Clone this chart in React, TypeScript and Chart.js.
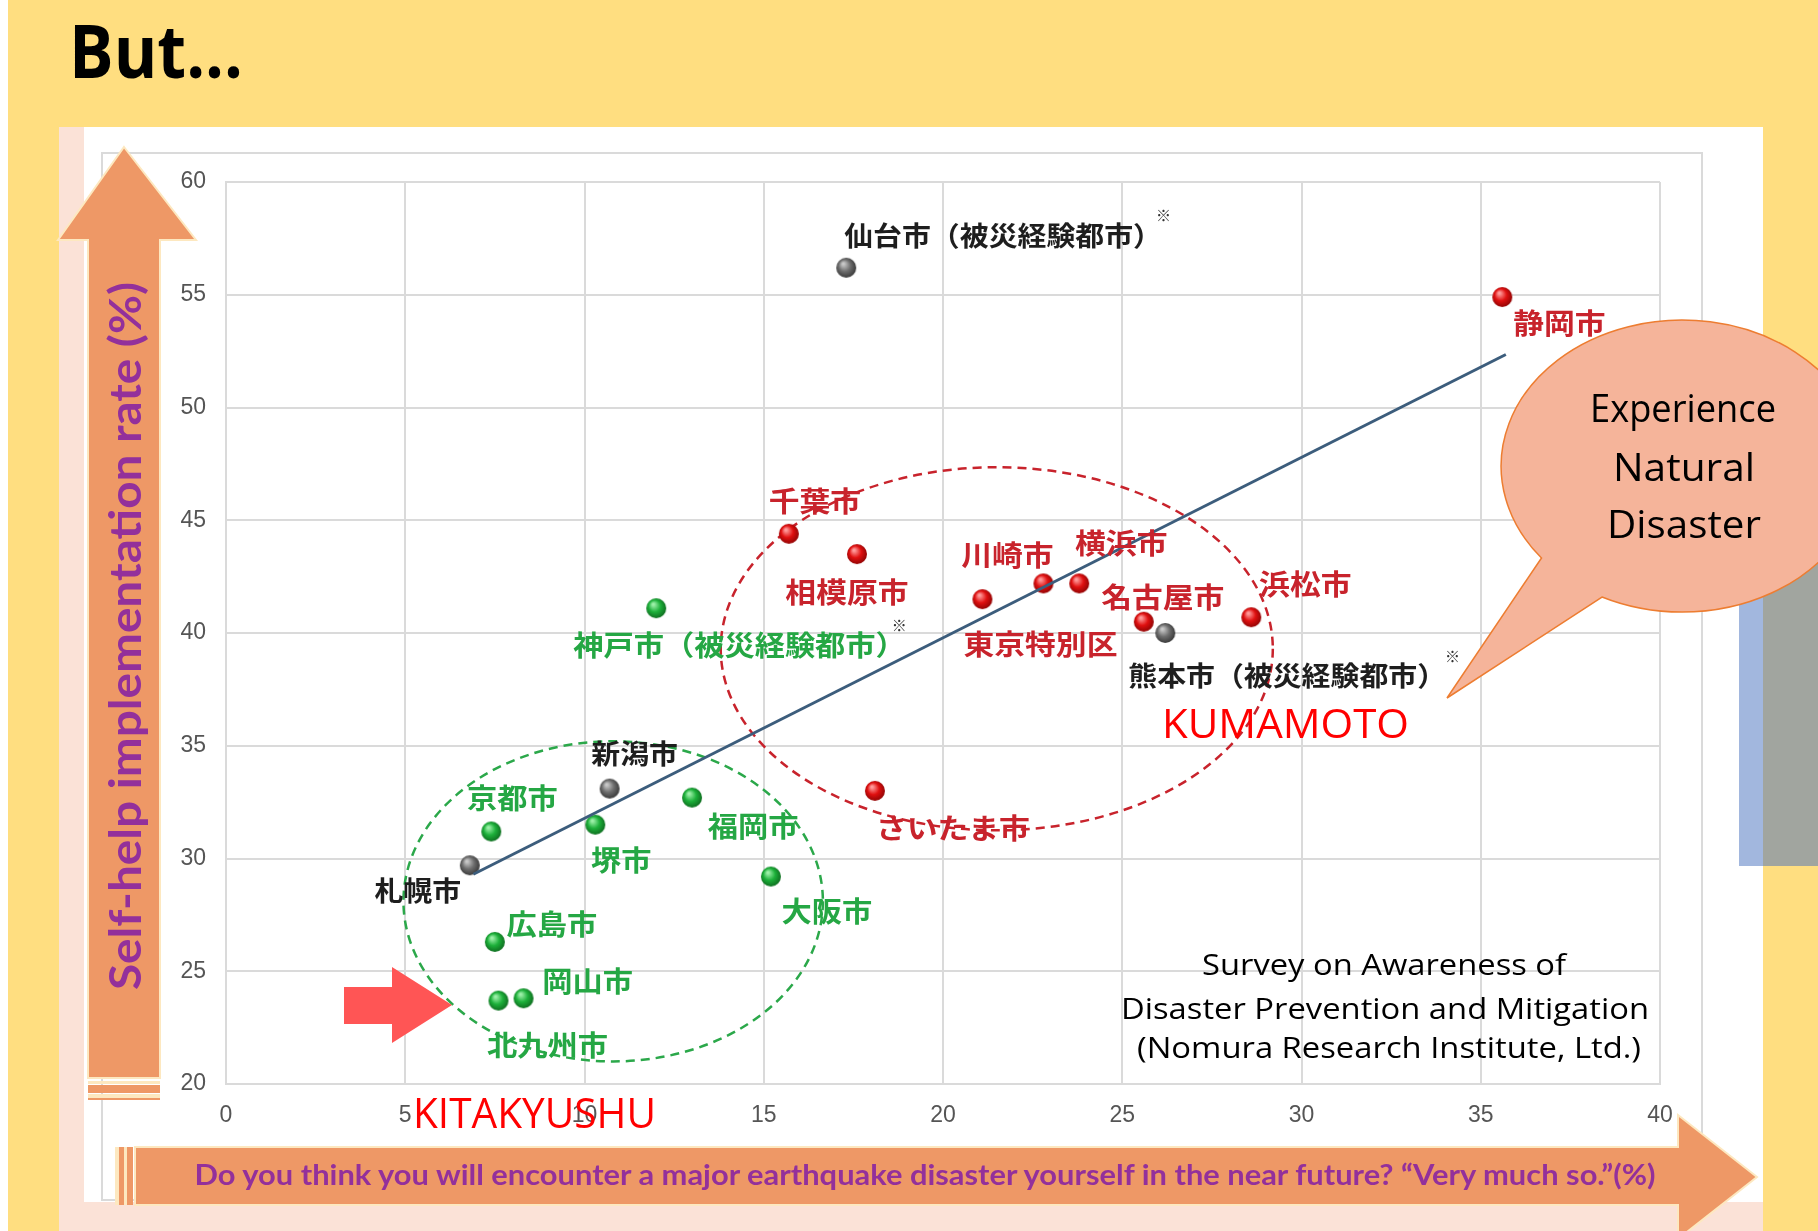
import React, { useEffect, useRef } from "react";
import { Chart, registerables } from "chart.js";

Chart.register(...registerables);

// ---------------- data ----------------
const xTickStep = 5;
const xRange = [0, 40];
const yTickStep = 5;
const yRange = [20, 60];

const redCities = ["静岡市", "千葉市", "相模原市", "東京特別区", "川崎市", "横浜市", "名古屋市", "浜松市", "さいたま市"];
const redX = [35.6, 15.7, 17.6, 21.1, 22.8, 23.8, 25.6, 28.6, 18.1];
const redY = [54.9, 44.4, 43.5, 41.5, 42.2, 42.2, 40.5, 40.7, 33.0];

const greenCities = ["神戸市（被災経験都市）", "京都市", "堺市", "福岡市", "大阪市", "広島市", "北九州市", "岡山市"];
const greenX = [12.0, 7.4, 10.3, 13.0, 15.2, 7.5, 7.6, 8.3];
const greenY = [41.1, 31.2, 31.5, 32.7, 29.2, 26.3, 23.7, 23.8];

const grayCities = ["仙台市（被災経験都市）", "熊本市（被災経験都市）", "新潟市", "札幌市"];
const grayX = [17.3, 26.2, 10.7, 6.8];
const grayY = [56.2, 40.0, 33.1, 29.7];

const trendX = [6.9, 35.7];
const trendY = [29.3, 52.35];

// dashed group ellipses (data units)
const ellipseCx = [21.5, 10.8];
const ellipseCy = [39.3, 28.1];
const ellipseRx = [7.7, 5.85];
const ellipseRy = [8.05, 7.1];
const ellipseColors = ["#C8232C", "#2BA84A"];

// label placement (pixel offsets from the point: dx, dy, align, star offset or null)
type Lbl = [number, number, "left" | "center", number | null];
const redLabelPos: Lbl[] = [
  [11, 26, "left", null],
  [26, -32, "center", null],
  [-10, 38, "center", null],
  [58, 45, "center", null],
  [-36, -28, "center", null],
  [42, -40, "center", null],
  [19, -24, "center", null],
  [54, -33, "center", null],
  [78, 38, "center", null],
];
const greenLabelPos: Lbl[] = [
  [-83, 37, "left", -14],
  [21, -33, "center", null],
  [26, 36, "center", null],
  [61, 29, "center", null],
  [56, 35, "center", null],
  [57, -18, "center", null],
  [49, 45, "center", null],
  [64, -17, "center", null],
];
const grayLabelPos: Lbl[] = [
  [-2, -32, "left", -6],
  [-37, 43, "left", -1],
  [25, -35, "center", null],
  [-52, 25, "center", null],
];

const RED = "#C8232C";
const GREEN = "#25A744";
const BLACK = "#1E1E1E";
const PURPLE = "#93309B";
const ORANGE = "#EE9866";
const CREAM = "#FDE8C0";

function sphere(light: string, mid: string, dark: string): HTMLCanvasElement {
  const c = document.createElement("canvas");
  c.width = 22;
  c.height = 22;
  const g = c.getContext("2d")!;
  const grad = g.createRadialGradient(8, 7, 1, 11, 11, 12);
  grad.addColorStop(0, light);
  grad.addColorStop(0.45, mid);
  grad.addColorStop(1, dark);
  g.beginPath();
  g.arc(11, 11, 10, 0, Math.PI * 2);
  g.fillStyle = grad;
  g.fill();
  return c;
}

function drawLabel(
  ctx: CanvasRenderingContext2D,
  text: string,
  x: number,
  y: number,
  align: "left" | "center",
  color: string,
  size: number,
  weight: number,
  sx: number
): number {
  ctx.save();
  ctx.font = `${weight} ${size}px "Noto Sans CJK JP"`;
  ctx.fillStyle = color;
  ctx.textBaseline = "middle";
  ctx.textAlign = "left";
  const w = ctx.measureText(text).width * sx;
  const left = align === "left" ? x : x - w / 2;
  ctx.translate(left, y);
  ctx.scale(sx, 1);
  ctx.fillText(text, 0, 0);
  ctx.restore();
  return left + w;
}

const annotationPlugin = {
  id: "annotations",
  beforeDatasetsDraw(chart: any) {
    const ctx: CanvasRenderingContext2D = chart.ctx;
    const xs = chart.scales.x;
    const ys = chart.scales.y;
    for (let i = 0; i < ellipseCx.length; i++) {
      const cx = xs.getPixelForValue(ellipseCx[i]);
      const cy = ys.getPixelForValue(ellipseCy[i]);
      const rx = Math.abs(xs.getPixelForValue(ellipseCx[i] + ellipseRx[i]) - cx);
      const ry = Math.abs(ys.getPixelForValue(ellipseCy[i] + ellipseRy[i]) - cy);
      ctx.save();
      ctx.beginPath();
      ctx.ellipse(cx, cy, rx, ry, 0, 0, Math.PI * 2);
      ctx.setLineDash([9, 6]);
      ctx.lineWidth = 2.5;
      ctx.strokeStyle = ellipseColors[i];
      ctx.stroke();
      ctx.restore();
    }
  },
  afterDatasetsDraw(chart: any) {
    const ctx: CanvasRenderingContext2D = chart.ctx;
    const groups: [number, string[], Lbl[], string, number, number, number][] = [
      [1, redCities, redLabelPos, RED, 28, 700, 1.1],
      [2, greenCities, greenLabelPos, GREEN, 28, 700, 1.08],
      [3, grayCities, grayLabelPos, BLACK, 27, 600, 1.07],
    ];
    for (const [di, names, pos, color, size, weight, sx] of groups) {
      const meta = chart.getDatasetMeta(di);
      names.forEach((name, j) => {
        const el = meta.data[j];
        if (!el) return;
        const [dx, dy, align, star] = pos[j];
        const right = drawLabel(ctx, name, el.x + dx, el.y + dy, align, color, size, weight, sx);
        if (star !== null) {
          ctx.save();
          ctx.font = `400 15px "Noto Sans CJK JP"`;
          ctx.fillStyle = "#333";
          ctx.textBaseline = "middle";
          ctx.textAlign = "left";
          ctx.fillText("※", right + star, el.y + dy - 20);
          ctx.restore();
        }
      });
    }
  },
};

function toPoints(xs: number[], ys: number[]) {
  return xs.map((x, i) => ({ x, y: ys[i] }));
}

export default function App() {
  const canvasRef = useRef<HTMLCanvasElement | null>(null);

  useEffect(() => {
    if (!canvasRef.current) return;
    const redSphere = sphere("#FF9A9A", "#E01010", "#7A0000");
    const greenSphere = sphere("#9CF0A8", "#1DB03A", "#0A5A18");
    const graySphere = sphere("#C8C8C8", "#6E6E6E", "#2A2A2A");
    const tickFont = { family: "'Liberation Sans', Arial, sans-serif", size: 23 };
    const chart = new Chart(canvasRef.current, {
      type: "scatter",
      data: {
        datasets: [
          {
            label: "trend",
            type: "line",
            data: toPoints(trendX, trendY),
            borderColor: "#3C5D7C",
            borderWidth: 3,
            pointRadius: 0,
            showLine: true,
            fill: false,
          } as any,
          { label: "red", data: toPoints(redX, redY), pointStyle: redSphere as any, pointRadius: 10 },
          { label: "green", data: toPoints(greenX, greenY), pointStyle: greenSphere as any, pointRadius: 10 },
          { label: "gray", data: toPoints(grayX, grayY), pointStyle: graySphere as any, pointRadius: 10 },
        ],
      },
      options: {
        animation: false,
        responsive: false,
        maintainAspectRatio: false,
        layout: { padding: { left: 0, top: 182, right: 158, bottom: 107 } },
        plugins: { legend: { display: false }, tooltip: { enabled: false } },
        scales: {
          x: {
            type: "linear",
            min: xRange[0],
            max: xRange[1],
            ticks: { stepSize: xTickStep, padding: 18, color: "#555555", font: tickFont },
            grid: { color: "#DADADA", lineWidth: 2, drawTicks: false },
            border: { color: "#DADADA", width: 2 },
            afterFit: (s: any) => {
              s.height = 40;
            },
          },
          y: {
            type: "linear",
            min: yRange[0],
            max: yRange[1],
            ticks: { stepSize: yTickStep, padding: 20, color: "#555555", font: tickFont },
            grid: { color: "#DADADA", lineWidth: 2, drawTicks: false },
            border: { color: "#DADADA", width: 2 },
            afterFit: (s: any) => {
              s.width = 226;
            },
          },
        },
      } as any,
      plugins: [annotationPlugin],
    });
    return () => chart.destroy();
  }, []);

  const W = 1818;
  const H = 1231;
  const abs: React.CSSProperties = { position: "absolute", left: 0, top: 0 };

  return (
    <div style={{ position: "absolute", left: 0, top: 0, width: W, height: H, overflow: "hidden", background: "#fff" }}>
      <svg width={W} height={H} style={abs}>
        <rect x={8} y={0} width={W - 8} height={H} fill="#FFDE80" />
        <rect x={59} y={127} width={1704} height={H - 127} fill="#FBE2D7" />
        <rect x={84} y={127} width={1679} height={1075} fill="#FFFFFF" />
        <rect x={102} y={153} width={1600} height={1047} fill="none" stroke="#DADADA" strokeWidth={2} />
        <text x={69} y={78} fontFamily="'Open Sans', sans-serif" fontWeight={700} fontSize={74} fill="#000" textLength={174} lengthAdjust="spacingAndGlyphs">
          But...
        </text>
      </svg>
      <canvas ref={canvasRef} width={W} height={H} style={{ ...abs, width: W, height: H }} />
      <svg width={W} height={H} style={{ ...abs, pointerEvents: "none" }}>
        {/* right side blocks */}
        <rect x={1739} y={520} width={24} height={346} fill="#A2B7DE" />
        <rect x={1763} y={520} width={55} height={346} fill="#A1A59F" />

        {/* vertical axis arrow */}
        <polygon points="124,147 196,240 160,240 160,1078 88,1078 88,240 58,240" fill={ORANGE} stroke={CREAM} strokeWidth={2} />
        <rect x={88} y={1081} width={72} height={3} fill={CREAM} />
        <rect x={88} y={1085} width={72} height={8} fill={ORANGE} />
        <rect x={88} y={1094} width={72} height={4} fill={CREAM} />
        <rect x={88} y={1098} width={72} height={2} fill={ORANGE} />
        <text
          transform="translate(141,636) rotate(-90)"
          textAnchor="middle"
          fontFamily="Lato, 'Liberation Sans', sans-serif"
          fontWeight={700}
          fontSize={43}
          fill={PURPLE}
          textLength={708}
          lengthAdjust="spacingAndGlyphs"
        >
          Self-help implementation rate (%)
        </text>

        {/* horizontal axis arrow */}
        <polygon points="135,1147 1678,1147 1678,1115 1757,1177 1678,1239 1678,1205 135,1205" fill={ORANGE} stroke={CREAM} strokeWidth={2} />
        <rect x={115} y={1147} width={4} height={58} fill={CREAM} />
        <rect x={119} y={1147} width={5} height={58} fill={ORANGE} />
        <rect x={124} y={1147} width={3} height={58} fill={CREAM} />
        <rect x={127} y={1147} width={6} height={58} fill={ORANGE} />
        <text
          x={925}
          y={1185}
          textAnchor="middle"
          fontFamily="Lato, 'Liberation Sans', sans-serif"
          fontWeight={700}
          fontSize={28}
          fill={PURPLE}
          textLength={1461}
          lengthAdjust="spacingAndGlyphs"
        >
          Do you think you will encounter a major earthquake disaster yourself in the near future? “Very much so.”(%)
        </text>

        {/* red pointer arrow */}
        <polygon points="344,987 392,987 392,967 452,1005 392,1043 392,1024 344,1024" fill="#FF5555" />

        <text x={413} y={1128} fontFamily="'Open Sans', sans-serif" fontSize={42} fill="#FF0000" textLength={243} lengthAdjust="spacingAndGlyphs">
          KITAKYUSHU
        </text>
        <text x={1162} y={738} fontFamily="'Open Sans', sans-serif" fontSize={40} fill="#FF0000" textLength={247} lengthAdjust="spacingAndGlyphs">
          KUMAMOTO
        </text>

        {/* source note */}
        <g fontFamily="'Open Sans', sans-serif" fontSize={30} fill="#000">
          <text x={1202} y={975} textLength={364} lengthAdjust="spacingAndGlyphs">Survey on Awareness of</text>
          <text x={1121} y={1019} textLength={528} lengthAdjust="spacingAndGlyphs">Disaster Prevention and Mitigation</text>
          <text x={1137} y={1058} textLength={504} lengthAdjust="spacingAndGlyphs">(Nomura Research Institute, Ltd.)</text>
        </g>

        {/* callout bubble */}
        <path d="M 1602 597 A 181 146 0 1 0 1541.5 558 L 1447 698 Z" fill="#F5B49A" stroke="#ED7D31" strokeWidth={1.5} />
        <g fontFamily="'Open Sans', sans-serif" fontSize={39} fill="#000" textAnchor="middle">
          <text x={1683} y={422} textLength={186} lengthAdjust="spacingAndGlyphs">Experience</text>
          <text x={1684} y={481} textLength={142} lengthAdjust="spacingAndGlyphs">Natural</text>
          <text x={1684} y={538} textLength={154} lengthAdjust="spacingAndGlyphs">Disaster</text>
        </g>
      </svg>
    </div>
  );
}
